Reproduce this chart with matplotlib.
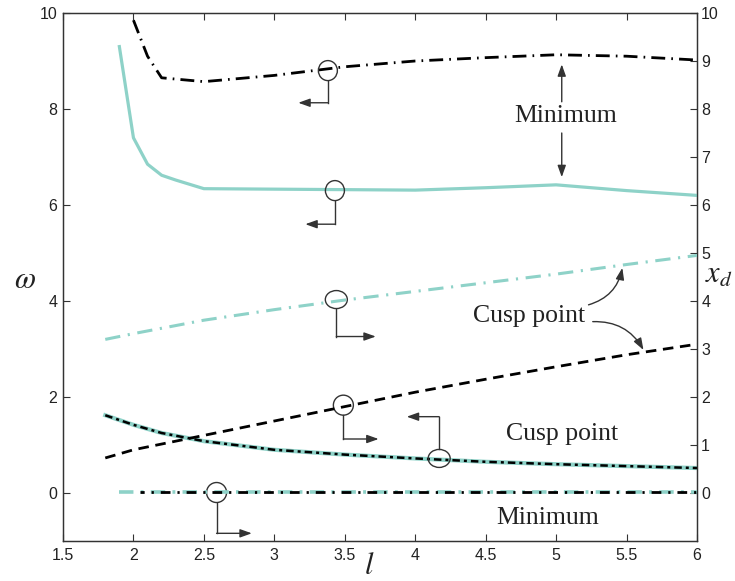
import matplotlib
matplotlib.use("Agg")
import matplotlib.pyplot as plt
from matplotlib.patches import Ellipse

plt.rcParams["mathtext.fontset"] = "stix"

# omega curves (left axis)
l_top_black = [2.0, 2.1, 2.2, 2.5, 3.0, 3.5, 4.0, 4.5, 5.0, 5.5, 6.0]
w_top_black = [9.85, 9.1, 8.65, 8.57, 8.7, 8.88, 9.0, 9.07, 9.13, 9.1, 9.02]

l_top_teal = [1.9, 2.0, 2.1, 2.2, 2.3, 2.5, 3.0, 3.5, 4.0, 4.5, 5.0, 5.5, 6.0]
w_top_teal = [9.3, 7.4, 6.85, 6.62, 6.52, 6.34, 6.33, 6.32, 6.31, 6.36, 6.42, 6.3, 6.2]

l_cusp_w = [1.8, 2.0, 2.2, 2.5, 3.0, 3.5, 4.0, 4.5, 5.0, 5.5, 6.0]
w_cusp = [1.62, 1.42, 1.25, 1.08, 0.9, 0.8, 0.72, 0.65, 0.6, 0.56, 0.52]

# x_d curves (right axis)
l_cusp_teal = [1.8, 2.0, 2.5, 3.0, 3.5, 4.0, 4.5, 5.0, 5.5, 6.0]
xd_cusp_teal = [3.2, 3.32, 3.6, 3.82, 4.02, 4.2, 4.38, 4.56, 4.76, 4.95]

l_cusp_black = [1.8, 2.0, 2.5, 3.0, 3.5, 4.0, 4.5, 5.0, 5.5, 6.0]
xd_cusp_black = [0.73, 0.9, 1.2, 1.5, 1.8, 2.1, 2.37, 2.63, 2.88, 3.1]

l_min_teal = [1.9, 6.0]
xd_min_teal = [0.02, 0.02]
l_min_black = [2.05, 6.0]
xd_min_black = [0.02, 0.02]

x_ticks = [1.5, 2, 2.5, 3, 3.5, 4, 4.5, 5, 5.5, 6]
x_ticklabels = ["1.5", "2", "2.5", "3", "3.5", "4", "4.5", "5", "5.5", "6"]
left_ticks = [0, 2, 4, 6, 8, 10]
right_ticks = list(range(0, 11))

TEAL = "#8ED2C8"
INK = "#333333"
TXT = "#222222"

fig = plt.figure(figsize=(7.35, 5.81), dpi=100)
ax = fig.add_axes([63 / 735, 40 / 581, 634 / 735, 528 / 581])
ax2 = ax.twinx()

ax.set_xlim(1.5, 6)
ax.set_ylim(-1, 10)
ax2.set_ylim(-1, 10)

# omega curves
ax.plot(l_top_black, w_top_black, color="black", lw=2.0,
        linestyle=(0, (5, 2.2, 0.6, 2.2)), zorder=3)
ax.plot(l_top_teal, w_top_teal, color=TEAL, lw=2.3, zorder=3)
ax.plot(l_cusp_w, w_cusp, color=TEAL, lw=3.0, zorder=3)
ax.plot(l_cusp_w, w_cusp, color="black", lw=1.8,
        linestyle=(0, (3, 1.6, 1.2, 1.6)), zorder=4)

# x_d curves
ax2.plot(l_cusp_teal, xd_cusp_teal, color=TEAL, lw=2.2,
         linestyle=(0, (5, 2.5, 0.7, 2.5)), zorder=3)
ax2.plot(l_cusp_black, xd_cusp_black, color="black", lw=2.0,
         linestyle=(0, (3.8, 2.4)), zorder=3)
ax2.plot(l_min_teal, xd_min_teal, color=TEAL, lw=2.6,
         linestyle=(0, (4, 2, 0.8, 2)), zorder=3)
ax2.plot(l_min_black, xd_min_black, color="black", lw=2.0,
         linestyle=(2, (3.5, 2.5, 0.8, 2.5)), zorder=4)

# ticks and spines
ax.set_xticks(x_ticks)
ax.set_xticklabels(x_ticklabels)
ax.set_yticks(left_ticks)
ax.set_yticklabels([str(t) for t in left_ticks])
ax2.set_yticks(right_ticks)
ax2.set_yticklabels([str(t) for t in right_ticks])
ax.tick_params(axis="x", direction="in", top=True, length=5, width=0.8,
               color=INK, labelsize=11.5, labelcolor=TXT, pad=5)
ax.tick_params(axis="y", direction="in", length=5, width=0.8,
               color=INK, labelsize=11.5, labelcolor=TXT, pad=4)
ax2.tick_params(axis="y", direction="in", length=5, width=0.8,
                color=INK, labelsize=11.5, labelcolor=TXT, pad=3)
for a in (ax, ax2):
    for s in a.spines.values():
        s.set_color(INK)
        s.set_linewidth(0.9)
for lab in ax.get_xticklabels() + ax.get_yticklabels() + ax2.get_yticklabels():
    lab.set_family("Liberation Sans")

# axis titles
ax.text(-0.06, 0.495, r"$\omega$", transform=ax.transAxes, fontsize=22,
        color=TXT, ha="center", va="center")
ax.text(1.034, 0.505, r"$x_d$", transform=ax.transAxes, fontsize=22,
        color=TXT, ha="center", va="center")
ax.text(0.483, -0.046, r"$l$", transform=ax.transAxes, fontsize=22,
        color=TXT, ha="center", va="center")

# circle markers with elbow arrows pointing to the axis each curve uses
PX_X = 4.5 / 634   # data units per pixel horizontally
PX_Y = 11 / 528    # data units per pixel vertically
markers = [
    # (cx, cy, w_px, h_px, corner_y, arrow_x)
    (3.38, 8.80, 19, 20, 8.13, 3.17),
    (3.43, 6.30, 19, 20, 5.60, 3.22),
    (3.44, 4.03, 22, 18, 3.26, 3.72),
    (3.49, 1.83, 20, 20, 1.125, 3.74),
    (4.17, 0.72, 22, 18, 1.59, 3.94),
    (2.59, 0.01, 20, 20, -0.84, 2.84),
]
for cx, cy, wp, hp, yc, xa in markers:
    w, h = wp * PX_X, hp * PX_Y
    ax.add_patch(Ellipse((cx, cy), w, h, fill=False, edgecolor=INK,
                         lw=1.0, zorder=6))
    y0 = cy - h / 2 if yc < cy else cy + h / 2
    ax.plot([cx, cx], [y0, yc], color=INK, lw=1.0, zorder=6)
    ax.annotate("", xy=(xa, yc), xytext=(cx, yc),
                arrowprops=dict(arrowstyle="-|>,head_length=0.7,head_width=0.25",
                                color=INK, lw=1.0, shrinkA=0, shrinkB=0),
                zorder=6)

serif = "Liberation Serif"
# upper "Minimum" with double arrows
ax.text(5.07, 7.85, "Minimum", fontsize=18.5, family=serif, color=TXT,
        ha="center", va="center")
ax.annotate("", xy=(5.04, 8.93), xytext=(5.04, 8.15),
            arrowprops=dict(arrowstyle="-|>,head_length=0.7,head_width=0.25",
                            color=INK, lw=1.0, shrinkA=0, shrinkB=0))
ax.annotate("", xy=(5.04, 6.58), xytext=(5.04, 7.5),
            arrowprops=dict(arrowstyle="-|>,head_length=0.7,head_width=0.25",
                            color=INK, lw=1.0, shrinkA=0, shrinkB=0))

# "Cusp point" with curved arrows
ax.text(4.81, 3.69, "Cusp point", fontsize=18.5, family=serif, color=TXT,
        ha="center", va="center")
ax.annotate("", xy=(5.47, 4.69), xytext=(5.23, 3.92),
            arrowprops=dict(arrowstyle="-|>,head_length=0.7,head_width=0.25",
                            color=INK, lw=1.0, shrinkA=0, shrinkB=0,
                            connectionstyle="arc3,rad=0.3"))
ax.annotate("", xy=(5.62, 2.98), xytext=(5.26, 3.57),
            arrowprops=dict(arrowstyle="-|>,head_length=0.7,head_width=0.25",
                            color=INK, lw=1.0, shrinkA=0, shrinkB=0,
                            connectionstyle="arc3,rad=-0.3"))

ax.text(5.04, 1.23, "Cusp point", fontsize=18.5, family=serif, color=TXT,
        ha="center", va="center")
ax.text(4.94, -0.52, "Minimum", fontsize=18.5, family=serif, color=TXT,
        ha="center", va="center")

fig.savefig("out.png", dpi=100)
